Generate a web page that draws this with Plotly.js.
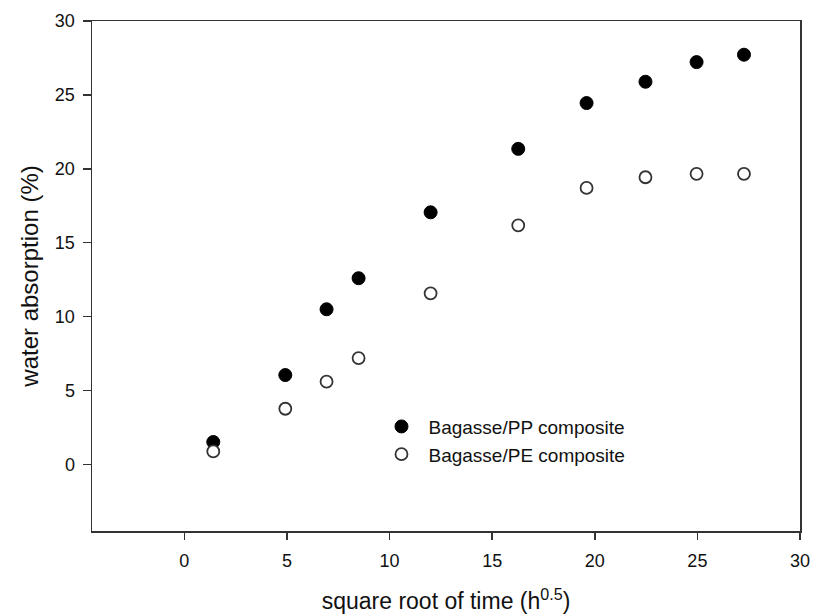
<!DOCTYPE html>
<html>
<head>
<meta charset="utf-8">
<script src="https://cdn.plot.ly/plotly-3.0.1.min.js"></script>
<style>html,body{margin:0;padding:0;background:#fff;}#chart{width:813px;height:616px;}</style>
</head>
<body>
<div id="chart"></div>
<script>
const sqrtTime = [1.41, 4.92, 6.93, 8.49, 12.0, 16.27, 19.6, 22.47, 24.96, 27.27];
const bagassePP = [1.52, 6.05, 10.5, 12.6, 17.06, 21.35, 24.45, 25.89, 27.22, 27.72];
const bagassePE = [0.88, 3.77, 5.6, 7.2, 11.58, 16.18, 18.71, 19.43, 19.66, 19.66];
const seriesNames = ["Bagasse/PP composite", "Bagasse/PE composite"];

const font = "Liberation Sans, Arial, sans-serif";

const traces = [
  {
    x: sqrtTime, y: bagassePP, name: seriesNames[0], type: "scatter", mode: "markers",
    marker: {symbol: "circle", size: 13, color: "#000000", line: {color: "#000000", width: 1}}
  },
  {
    x: sqrtTime, y: bagassePE, name: seriesNames[1], type: "scatter", mode: "markers",
    marker: {symbol: "circle", size: 12, color: "#ffffff", line: {color: "#333333", width: 1.8}}
  }
];

const axisCommon = {
  showgrid: false, zeroline: false, showline: true, linecolor: "#333333", linewidth: 1.5,
  mirror: true, ticks: "outside", ticklen: 8, tickwidth: 1.5, tickcolor: "#333333",
  tickfont: {family: font, size: 18, color: "#111111"}
};

const layout = {
  width: 813, height: 616,
  margin: {l: 92, r: 13, t: 21, b: 85},
  paper_bgcolor: "#ffffff", plot_bgcolor: "#ffffff",
  showlegend: true,
  legend: {
    x: 0.399, y: 0.242, xanchor: "left", yanchor: "top",
    bgcolor: "rgba(0,0,0,0)", borderwidth: 0, itemwidth: 44,
    font: {family: font, size: 19, color: "#111111"},
    tracegroupgap: 0
  },
  xaxis: Object.assign({}, axisCommon, {
    range: [-4.5, 30], tickvals: [0, 5, 10, 15, 20, 25, 30], ticklen: 7, ticklabelstandoff: 6,
    title: {text: "square root of time (h<sup>0.5</sup>)", font: {family: font, size: 23, color: "#111111"}, standoff: 23}
  }),
  yaxis: Object.assign({}, axisCommon, {
    range: [-4.5, 30], tickvals: [0, 5, 10, 15, 20, 25, 30], ticklabelstandoff: 4,
    title: {text: "water absorption (%)", font: {family: font, size: 24, color: "#111111"}, standoff: 9}
  })
};

Plotly.newPlot("chart", traces, layout, {displayModeBar: false, staticPlot: true});
</script>
</body>
</html>
